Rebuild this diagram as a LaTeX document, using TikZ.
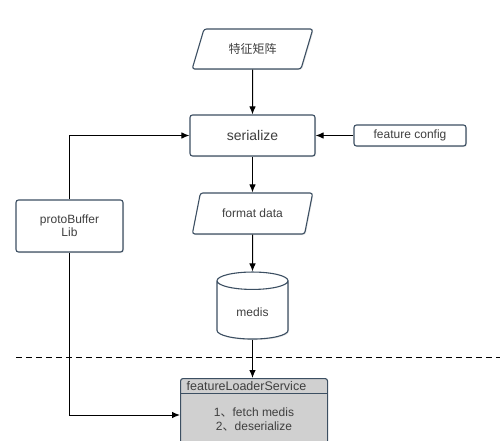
\documentclass[tikz,border=0pt]{standalone}
\usepackage{fontspec}
\setmainfont{Liberation Sans}
\newfontfamily\cjk{Noto Sans CJK SC}
\usetikzlibrary{shapes.geometric,shapes.multipart,arrows.meta,shadows}
\definecolor{bord}{HTML}{3C4F62}
\definecolor{txt}{HTML}{3F3F3F}
\definecolor{grayfill}{HTML}{D0D0D0}
\tikzset{
  box/.style={draw=bord, line width=1.1pt, rounded corners=2.5pt, fill=white, text=txt,
    drop shadow={opacity=0.2, shadow xshift=1pt, shadow yshift=-1pt}},
  para/.style={box, trapezium, trapezium left angle=62, trapezium right angle=118,
    trapezium stretches=true, inner sep=0pt},
  conn/.style={line width=1pt, -{Latex[length=8pt,width=6.5pt]}},
  lbl/.style={font=\fontsize{12}{13}\selectfont},
}
\begin{document}
\begin{tikzpicture}[x=1pt,y=1pt]
\useasboundingbox (0,0) rectangle (500,-441);
\clip (0,0) rectangle (500,-441);
\node[para, minimum width=121pt, minimum height=40pt, font=\cjk\fontsize{12}{13}\selectfont] (mat) at (252.5,-49) {特征矩阵};
\node[box, minimum width=125pt, minimum height=41pt, font=\fontsize{14}{16}\selectfont] (ser) at (252.5,-135.5) {serialize};
\node[box, lbl, minimum width=112pt, minimum height=21pt, inner sep=0pt] (cfg) at (410,-135.5) {feature config};
\node[box, lbl, minimum width=107pt, minimum height=52pt, align=center] (pb) at (69.5,-226) {protoBuffer\\Lib};
\node[para, lbl, minimum width=121pt, minimum height=41pt] (fd) at (252.5,-213.5) {format data};
\node[box, lbl, cylinder, shape border rotate=90, aspect=0.45, minimum width=71pt, minimum height=67pt, rounded corners=0pt] (med) at (252.5,-312) {medis};
\draw[line width=1pt, dash pattern=on 6pt off 4pt] (16,-357) -- (500,-357);
\node[draw=bord, line width=1.1pt, rounded corners=2.5pt, fill=grayfill, minimum width=147pt, minimum height=100pt, anchor=north west, inner sep=0pt] (fls) at (180,-378) {};
\draw[bord, line width=1pt] (fls.north west |- 0,-393) -- (fls.north east |- 0,-393);
\node[text=txt, anchor=west, font=\fontsize{12.5}{13}\selectfont, inner sep=0pt] (flst) at (186.5,-386) {featureLoaderService};
\node[text=txt, align=center, font=\fontsize{12}{13.5}\selectfont, inner sep=0pt] (flsb) at (254,-419.5) {1{\cjk 、}fetch medis\\2{\cjk 、}deserialize};
\draw[conn] (mat) -- (ser);
\draw[conn] (cfg) -- (ser);
\draw[conn] (ser) -- (fd);
\draw[conn] (fd) -- (med);
\draw[conn] (med.bottom) -- (fls.north -| med.bottom);
\draw[conn] (pb.north) |- (ser.west);
\coordinate (flsin) at (180,-415);
\draw[conn] (pb.south) |- (flsin);
\end{tikzpicture}
\end{document}
